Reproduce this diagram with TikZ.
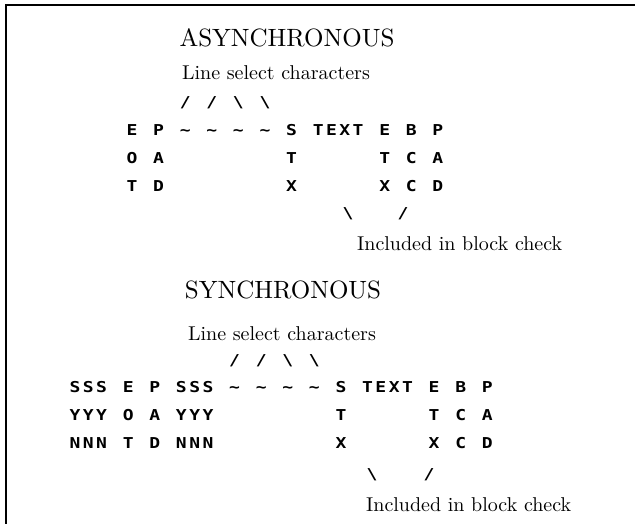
\documentclass[tikz,border=0pt]{standalone}
\usepackage{fontspec}
\setmainfont{lmroman10-regular.otf}
\newfontfamily\termfont[FakeStretch=1.2]{DejaVu Sans Mono}
\usetikzlibrary{positioning}

\begin{document}
\begin{tikzpicture}[
    x=1pt, y=-1pt,
    title/.style={font=\fontsize{25}{30}\selectfont, anchor=base, inner sep=0pt},
    note/.style={font=\fontsize{20}{24}\selectfont, anchor=base, inner sep=0pt},
    term/.style={font=\termfont\bfseries\fontsize{15}{18}\selectfont, anchor=base, inner sep=0pt},
    frame/.style={line width=2pt, color=black}
]
\useasboundingbox (0,0) rectangle (635,524);

% Frame
\coordinate (frameBL) at (6,524);
\coordinate (frameTL) at (6,5);
\coordinate (frameTR) at (635,5);
\draw[frame] (frameBL) -- (frameTL) -- (frameTR);

% Asynchronous
\node[title] (asynctitle) at (287,46.5) {ASYNCHRONOUS};
\node[note] (asyncsel) at (276,80) {Line select characters};
\foreach \c/\ch in {4/\slash,6/\slash,8/\textbackslash,10/\textbackslash}
    \node[term] (asl-\c) at (132+\c*13.3,107.5) {\ch};
\foreach \c/\ch in {0/E,2/P,4/\textasciitilde,6/\textasciitilde,8/\textasciitilde,10/\textasciitilde,
                    12/S,14/T,15/E,16/X,17/T,19/E,21/B,23/P}
    \node[term] (ar1-\c) at (132+\c*13.3,135.5) {\ch};
\foreach \c/\ch in {0/O,2/A,12/T,19/T,21/C,23/A}
    \node[term] (ar2-\c) at (132+\c*13.3,163.5) {\ch};
\foreach \c/\ch in {0/T,2/D,12/X,19/X,21/C,23/D}
    \node[term] (ar3-\c) at (132+\c*13.3,191.5) {\ch};
\node[term] (abk-l) at (348,218.5) {\textbackslash};
\node[term] (abk-r) at (403,218.5) {\slash};
\node[note, anchor=base west] (asyncblk) at (357,250) {Included in block check};

% Synchronous
\node[title] (synctitle) at (283,298.5) {SYNCHRONOUS};
\node[note] (syncsel) at (282,340) {Line select characters};
\foreach \c/\ch in {12/\slash,14/\slash,16/\textbackslash,18/\textbackslash}
    \node[term] (ssl-\c) at (75+\c*13.3,365.5) {\ch};
\foreach \c/\ch in {0/S,1/S,2/S,4/E,6/P,8/S,9/S,10/S,12/\textasciitilde,14/\textasciitilde,
                    16/\textasciitilde,18/\textasciitilde,20/S,22/T,23/E,24/X,25/T,27/E,29/B,31/P}
    \node[term] (sr1-\c) at (75+\c*13.3,392.5) {\ch};
\foreach \c/\ch in {0/Y,1/Y,2/Y,4/O,6/A,8/Y,9/Y,10/Y,20/T,27/T,29/C,31/A}
    \node[term] (sr2-\c) at (75+\c*13.3,420.5) {\ch};
\foreach \c/\ch in {0/N,1/N,2/N,4/T,6/D,8/N,9/N,10/N,20/X,27/X,29/C,31/D}
    \node[term] (sr3-\c) at (75+\c*13.3,448.5) {\ch};
\node[term] (sbk-l) at (372,479) {\textbackslash};
\node[term] (sbk-r) at (429,479) {\slash};
\node[note, anchor=base west] (syncblk) at (366,511) {Included in block check};

\end{tikzpicture}
\end{document}
